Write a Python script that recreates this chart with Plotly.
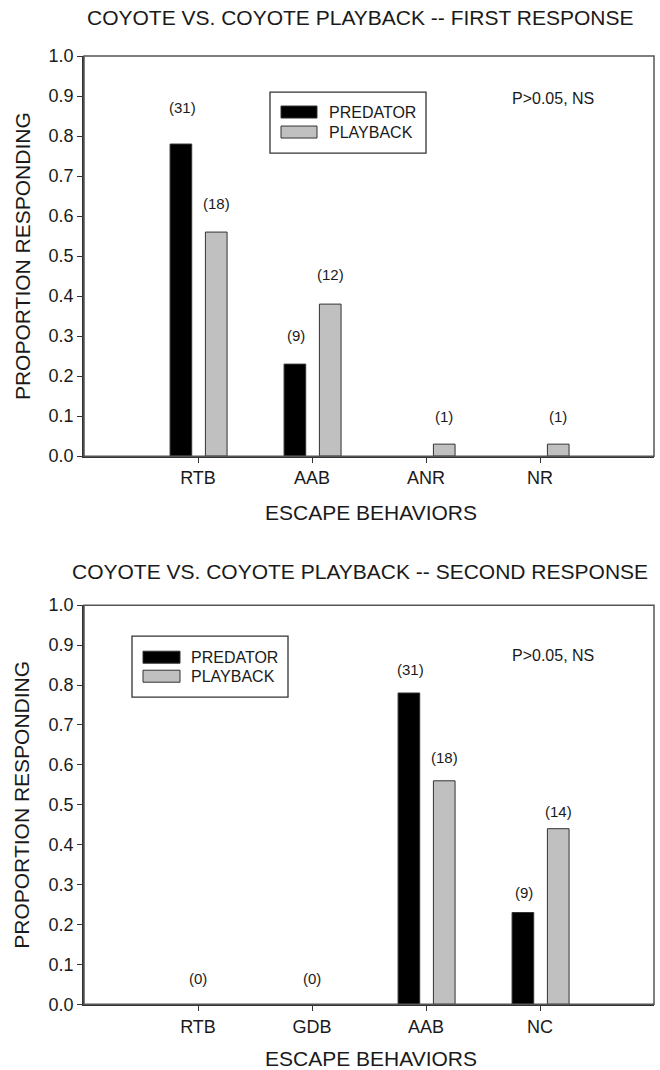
import plotly.graph_objects as go

W, H = 660, 1070

# ---------------- data ----------------
cats1 = ["RTB", "AAB", "ANR", "NR"]
pred1 = [0.78, 0.23, 0.0, 0.0]
play1 = [0.56, 0.38, 0.03, 0.03]
pred1_n = ["(31)", "(9)", "", ""]
play1_n = ["(18)", "(12)", "(1)", "(1)"]

cats2 = ["RTB", "GDB", "AAB", "NC"]
pred2 = [0.0, 0.0, 0.78, 0.23]
play2 = [0.0, 0.0, 0.56, 0.44]
pred2_n = ["", "", "(31)", "(9)"]
play2_n = ["", "", "(18)", "(14)"]
zero2_n = ["(0)", "(0)", "", ""]

yticks = [0.0, 0.1, 0.2, 0.3, 0.4, 0.5, 0.6, 0.7, 0.8, 0.9, 1.0]

title1 = "COYOTE VS. COYOTE PLAYBACK -- FIRST RESPONSE"
title2 = "COYOTE VS. COYOTE PLAYBACK -- SECOND RESPONSE"
xtitle = "ESCAPE BEHAVIORS"
ytitle = "PROPORTION RESPONDING"
stat = "P>0.05, NS"
names = ["PREDATOR", "PLAYBACK"]

# ---------------- styling ----------------
FONT = "Liberation Sans, Arial, sans-serif"
TXT = "#1a1a1a"
BLACK = "#000000"
GRAY = "#c0c0c0"
EDGE = "#333333"

# label pixel shifts above bar tops (style)
pred1_shift = [36, 28, 0, 0]
play1_shift = [28, 29, 27, 27]
pred2_shift = [0, 0, 23, 20]
play2_shift = [0, 0, 23, 17]
zero2_shift = [25, 25, 0, 0]

# vertical calibration of the rendered page (observed: shown = 0.981*y + 10)
VS, VO = 0.981, 10.0


def Y(y):
    return (y - VO) / VS


# panel pixel geometry (target pixels in the final picture)
L, R = 84, 654
P1 = (56, 456)
P2 = (605, 1004)


def px(x):
    return x / W


def py(y):
    return 1 - Y(y) / H


def nz(v):
    return [None if a == 0 else a for a in v]


fig = go.Figure()

BW = 0.19
for (cats, pred, play, xa, ya) in [(cats1, pred1, play1, "x", "y"),
                                   (cats2, pred2, play2, "x2", "y2")]:
    fig.add_trace(go.Bar(x=cats, y=nz(pred), name=names[0], width=BW, offset=-0.245,
                         marker=dict(color=BLACK, line=dict(color=EDGE, width=1)),
                         xaxis=xa, yaxis=ya, showlegend=False))
    fig.add_trace(go.Bar(x=cats, y=nz(play), name=names[1], width=BW, offset=0.065,
                         marker=dict(color=GRAY, line=dict(color=EDGE, width=1)),
                         xaxis=xa, yaxis=ya, showlegend=False))

ann = []


def lab(cats, vals, texts, shifts, xs, xref, yref):
    for c, v, t, s in zip(cats, vals, texts, shifts):
        if t:
            ann.append(dict(x=c, y=v, xref=xref, yref=yref, text=t, showarrow=False,
                            xshift=xs, yshift=s / VS, yanchor="middle", xanchor="center",
                            font=dict(size=15, color=TXT, family=FONT)))


lab(cats1, pred1, pred1_n, pred1_shift, -16, "x", "y")
lab(cats1, play1, play1_n, play1_shift, 18, "x", "y")
lab(cats2, pred2, pred2_n, pred2_shift, -16, "x2", "y2")
lab(cats2, play2, play2_n, play2_shift, 18, "x2", "y2")
lab(cats2, [0, 0, 0, 0], zero2_n, zero2_shift, 0, "x2", "y2")

# titles and axis titles
for t, y in [(title1, 17), (title2, 571)]:
    ann.append(dict(x=px(360), y=py(y), xref="paper", yref="paper", text=t, showarrow=False,
                    xanchor="center", yanchor="middle", font=dict(size=21, color=TXT, family=FONT)))
for y in [512, 1058]:
    ann.append(dict(x=px(371), y=py(y), xref="paper", yref="paper", text=xtitle, showarrow=False,
                    xanchor="center", yanchor="middle", font=dict(size=21, color=TXT, family=FONT)))
for (a, b) in [P1, P2]:
    ann.append(dict(x=px(22), y=py((a + b) / 2), xref="paper", yref="paper", text=ytitle,
                    showarrow=False, textangle=-90, xanchor="center", yanchor="middle",
                    font=dict(size=21, color=TXT, family=FONT)))
# stat text
for y in [98, 655]:
    ann.append(dict(x=px(553), y=py(y), xref="paper", yref="paper", text=stat, showarrow=False,
                    xanchor="center", yanchor="middle", font=dict(size=16, color=TXT, family=FONT)))

shapes = []
# frames
for (a, b) in [P1, P2]:
    shapes.append(dict(type="rect", xref="paper", yref="paper", x0=px(L), x1=px(R),
                       y0=py(b), y1=py(a), line=dict(color="#555555", width=1.5)))

# custom legends
for (bx0, by0, bx1, by1, sx0, sx1, rows, tx) in [
        (270, 92, 426, 153, 281, 317, [112, 132], 327),
        (132, 636, 288, 697, 143, 180, [657, 676], 189)]:
    shapes.append(dict(type="rect", xref="paper", yref="paper", x0=px(bx0), x1=px(bx1),
                       y0=py(by1), y1=py(by0), line=dict(color="#333333", width=1.3),
                       fillcolor="white"))
    for nm, col, yc in zip(names, [BLACK, GRAY], rows):
        shapes.append(dict(type="rect", xref="paper", yref="paper", x0=px(sx0), x1=px(sx1),
                           y0=py(yc + 6), y1=py(yc - 6), line=dict(color=EDGE, width=1),
                           fillcolor=col))
        ann.append(dict(x=px(tx), y=py(yc), xref="paper", yref="paper", text=nm,
                        showarrow=False, xanchor="left", yanchor="middle",
                        font=dict(size=16, color=TXT, family=FONT)))

axis_common = dict(showgrid=False, zeroline=False, showline=True, linecolor="#333333",
                   linewidth=1.5, ticks="outside", ticklen=5, tickcolor="#333333",
                   tickwidth=1.2, tickfont=dict(size=18, color=TXT, family=FONT))

fig.update_layout(
    width=W, height=H, margin=dict(l=0, r=0, t=0, b=0),
    paper_bgcolor="white", plot_bgcolor="white",
    font=dict(family=FONT, color=TXT),
    barmode="overlay",
    xaxis=dict(domain=[px(L), px(R)], anchor="y", type="category", range=[-1, 4],
               **axis_common),
    yaxis=dict(domain=[py(P1[1]), py(P1[0])], anchor="x", range=[0, 1], tickvals=yticks,
               tickformat=".1f", **axis_common),
    xaxis2=dict(domain=[px(L), px(R)], anchor="y2", type="category", range=[-1, 4],
                **axis_common),
    yaxis2=dict(domain=[py(P2[1]), py(P2[0])], anchor="x2", range=[0, 1], tickvals=yticks,
                tickformat=".1f", **axis_common),
    annotations=ann, shapes=shapes,
)

post = ("var d=document.getElementById('{plot_id}');"
        "d.style.position='fixed';d.style.top='0px';d.style.left='0px';"
        "document.body.style.margin='0';document.body.style.overflow='hidden';"
        "document.documentElement.style.overflow='hidden';")

fig.write_html("out.html", config={"displayModeBar": False}, post_script=post)
